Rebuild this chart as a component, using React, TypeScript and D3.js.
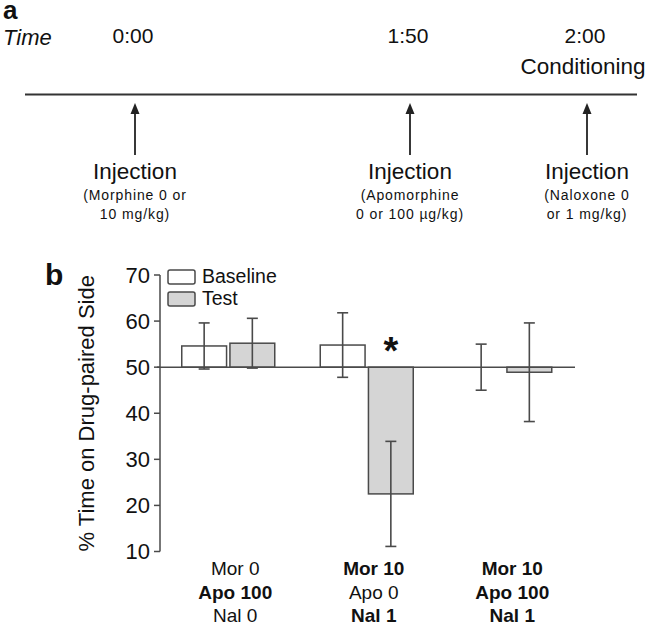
import React from 'react';
import * as d3 from 'd3';

// ---- data ----
const groups = ['A', 'B', 'C'];
const seriesNames = ['Baseline', 'Test'];
const baselineMean = [54.6, 54.8, 50.0];
const baselineSem = [5.0, 7.0, 5.0];
const testMean = [55.2, 22.5, 48.9];
const testSem = [5.4, 11.4, 10.7];
const testSignificant = [false, true, false];
const yTicks = [10, 20, 30, 40, 50, 60, 70];
const referenceValue = 50;
const groupLabels = [
  [{ t: 'Mor 0', b: false }, { t: 'Apo 100', b: true }, { t: 'Nal 0', b: false }],
  [{ t: 'Mor 10', b: true }, { t: 'Apo 0', b: false }, { t: 'Nal 1', b: true }],
  [{ t: 'Mor 10', b: true }, { t: 'Apo 100', b: true }, { t: 'Nal 1', b: true }],
];
const timeLabels = ['0:00', '1:50', '2:00'];
const injectionNotes = [
  ['(Morphine 0 or', '10 mg/kg)'],
  ['(Apomorphine', '0 or 100 \u00b5g/kg)'],
  ['(Naloxone 0', 'or 1 mg/kg)'],
];

const FONT = '"Liberation Sans", Arial, Helvetica, sans-serif';
const LINE = '#4a4a4a';
const TEST_FILL = '#d5d5d5';

export default function App() {
  // panel a schematic positions
  const tx = d3.scaleOrdinal<string, number>().domain(timeLabels).range([135, 410, 587]);

  // panel b scales
  const y = d3.scaleLinear().domain([10, 70]).range([551.5, 275]);
  const xg = d3.scaleBand<string>().domain(groups).range([159, 574.5]).padding(0);
  const xs = d3.scaleBand<string>().domain(seriesNames).range([-46.5, 46.5]).paddingInner(0.07);
  const axisX = 160;

  const seriesData = [
    { name: 'Baseline', mean: baselineMean, sem: baselineSem, fill: '#ffffff' },
    { name: 'Test', mean: testMean, sem: testSem, fill: TEST_FILL },
  ];

  return (
    <svg width={648} height={625} style={{ position: 'absolute', left: 0, top: 0, background: '#fff' }}
      fontFamily={FONT}>
      {/* ---------- panel a ---------- */}
      <text x={3} y={19} fontSize={26} fontWeight="bold" fill="#111">a</text>
      <text x={3} y={45} fontSize={22} fontStyle="italic" fill="#111">Time</text>
      {timeLabels.map((t) => (
        <text key={t} x={tx(t) - 2} y={43} fontSize={21} textAnchor="middle" fill="#111">{t}</text>
      ))}
      <text x={tx('2:00') - 4} y={74} fontSize={22.5} textAnchor="middle" fill="#111">Conditioning</text>
      <line x1={25} x2={637} y1={94.5} y2={94.5} stroke="#333" strokeWidth={1.8} />
      {timeLabels.map((t, i) => {
        const ax = tx(t);
        return (
          <g key={'inj' + t}>
            <line x1={ax} x2={ax} y1={155} y2={110} stroke="#222" strokeWidth={1.8} />
            <path d={`M${ax - 4.5},${114} L${ax},${103} L${ax + 4.5},${114} Z`} fill="#222" />
            <text x={ax} y={179} fontSize={22.5} textAnchor="middle" fill="#111">Injection</text>
            {injectionNotes[i].map((ln, j) => (
              <text key={j} x={ax} y={200 + j * 19} fontSize={14} letterSpacing={0.9}
                textAnchor="middle" fill="#111">{ln}</text>
            ))}
          </g>
        );
      })}

      {/* ---------- panel b ---------- */}
      <text x={45} y={285} fontSize={30} fontWeight="bold" fill="#111">b</text>
      <text transform={`translate(86, ${(y(70) + y(10)) / 2}) rotate(-90)`} fontSize={22}
        textAnchor="middle" dominantBaseline="central" fill="#111">% Time on Drug-paired Side</text>

      {/* y axis */}
      <line x1={axisX} x2={axisX} y1={y(70)} y2={y(10)} stroke={LINE} strokeWidth={1.5} />
      {yTicks.map((t) => (
        <g key={t}>
          <line x1={axisX - 6} x2={axisX} y1={y(t)} y2={y(t)} stroke={LINE} strokeWidth={1.5} />
          <text x={axisX - 10} y={y(t)} dy="0.36em" fontSize={22} textAnchor="end" fill="#111">{t}</text>
        </g>
      ))}

      {/* bars */}
      {groups.map((g, gi) => {
        const cx = (xg(g) as number) + xg.bandwidth() / 2;
        return (
          <g key={g}>
            {seriesData.map((s) => {
              const v = s.mean[gi];
              const x0 = cx + (xs(s.name) as number);
              const top = Math.min(y(v), y(referenceValue));
              const h = Math.abs(y(v) - y(referenceValue));
              return (
                <rect key={s.name} x={x0} y={top} width={xs.bandwidth()} height={h}
                  fill={s.fill} stroke={LINE} strokeWidth={1.5} />
              );
            })}
          </g>
        );
      })}

      {/* reference line at 50 */}
      <line x1={axisX - 3} x2={575} y1={y(referenceValue)} y2={y(referenceValue)} stroke={LINE} strokeWidth={1.5} />

      {/* error bars */}
      {groups.map((g, gi) => {
        const cx = (xg(g) as number) + xg.bandwidth() / 2;
        return (
          <g key={'e' + g}>
            {seriesData.map((s) => {
              const v = s.mean[gi];
              const e = s.sem[gi];
              const ex = cx + (xs(s.name) as number) + xs.bandwidth() / 2;
              return (
                <g key={s.name} stroke={LINE} strokeWidth={1.6}>
                  <line x1={ex} x2={ex} y1={y(v + e)} y2={y(v - e)} />
                  <line x1={ex - 5.5} x2={ex + 5.5} y1={y(v + e)} y2={y(v + e)} />
                  <line x1={ex - 5.5} x2={ex + 5.5} y1={y(v - e)} y2={y(v - e)} />
                </g>
              );
            })}
            {testSignificant[gi] && (
              <text x={cx + (xs('Test') as number) + xs.bandwidth() / 2} y={y(referenceValue) - 3}
                fontSize={38} fontWeight="bold" textAnchor="middle" fill="#111">*</text>
            )}
          </g>
        );
      })}

      {/* legend */}
      {seriesData.map((s, i) => (
        <g key={'lg' + s.name} transform={`translate(168, ${270 + i * 22})`}>
          <rect x={0} y={0} width={27} height={14} rx={2} fill={s.fill} stroke={LINE} strokeWidth={1.5} />
          <text x={34} y={13} fontSize={19.5} fill="#111">{s.name}</text>
        </g>
      ))}

      {/* x category labels */}
      {groups.map((g, gi) => {
        const cx = (xg(g) as number) + xg.bandwidth() / 2 + 7;
        return groupLabels[gi].map((ln, j) => (
          <text key={g + j} x={cx} y={575 + j * 23.5} fontSize={19} fontWeight={ln.b ? 'bold' : 'normal'}
            textAnchor="middle" fill="#111">{ln.t}</text>
        ));
      })}
    </svg>
  );
}
